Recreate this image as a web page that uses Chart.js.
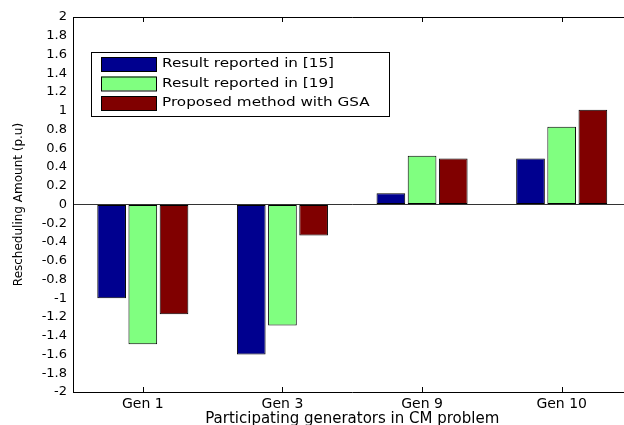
<!DOCTYPE html>
<html>
<head>
<meta charset="utf-8">
<script src="https://cdn.jsdelivr.net/npm/chart.js@4.4.1/dist/chart.umd.min.js"></script>
<style>
  html, body { margin: 0; padding: 0; background: #fff; overflow: hidden; }
  canvas { display: block; }
</style>
</head>
<body>
<canvas id="chart" width="640" height="425"></canvas>
<script>
// data
const categories = ['Gen 1', 'Gen 3', 'Gen 9', 'Gen 10'];
const seriesLabels = ['Result reported in [15]', 'Result reported in [19]', 'Proposed method with GSA'];
const ref15 = [-1.0, -1.6, 0.12, 0.49];
const ref19 = [-1.49, -1.29, 0.52, 0.83];
const gsa = [-1.17, -0.33, 0.49, 1.01];
const yMin = -2, yMax = 2, yStep = 0.2;

const colors = ['#00008f', '#80ff80', '#800000'];
const fontFamily = '"DejaVu Sans", Arial, sans-serif';

// matlab-ish box: top border plus small inward ticks at the categories
const boxPlugin = {
    id: 'box',
    afterDraw(chart) {
        const { ctx, chartArea } = chart;
        const x = chart.scales.x;
        ctx.save();
        ctx.strokeStyle = '#000';
        ctx.lineWidth = 1;
        ctx.beginPath();
        ctx.moveTo(chartArea.left, chartArea.top + 0.5);
        ctx.lineTo(chartArea.right, chartArea.top + 0.5);
        categories.forEach((c, i) => {
            const px = Math.round(x.getPixelForValue(i)) + 0.5;
            ctx.moveTo(px, chartArea.top);
            ctx.lineTo(px, chartArea.top + 5);
            ctx.moveTo(px, chartArea.bottom);
            ctx.lineTo(px, chartArea.bottom - 5);
        });
        ctx.stroke();
        ctx.restore();
    }
};

// legend drawn inside the axes, like the original
const insideLegend = {
    id: 'insideLegend',
    afterDraw(chart) {
        const { ctx, chartArea } = chart;
        const bx = chartArea.left + 18, by = chartArea.top + 35;
        const bw = 298, bh = 64;
        ctx.save();
        ctx.fillStyle = '#fff';
        ctx.fillRect(bx, by, bw, bh);
        ctx.strokeStyle = '#000';
        ctx.lineWidth = 1;
        ctx.strokeRect(bx + 0.5, by + 0.5, bw, bh);
        ctx.font = '13px ' + fontFamily;
        ctx.textBaseline = 'middle';
        chart.data.datasets.forEach((ds, i) => {
            const cy = by + 12 + i * 19.5;
            ctx.fillStyle = ds.backgroundColor;
            ctx.fillRect(bx + 10, cy - 7, 55, 14);
            ctx.strokeStyle = '#000';
            ctx.strokeRect(bx + 10.5, cy - 6.5, 55, 14);
            ctx.save();
            ctx.translate(bx + 71, cy);
            ctx.scale(1.17, 1);
            ctx.fillStyle = '#000';
            ctx.fillText(ds.label, 0, 0);
            ctx.restore();
        });
        ctx.restore();
    }
};

new Chart(document.getElementById('chart'), {
    type: 'bar',
    data: {
        labels: categories,
        datasets: [
            { label: seriesLabels[0], data: ref15, backgroundColor: colors[0] },
            { label: seriesLabels[1], data: ref19, backgroundColor: colors[1] },
            { label: seriesLabels[2], data: gsa, backgroundColor: colors[2] }
        ].map(d => Object.assign(d, {
            borderColor: '#000',
            borderWidth: 1,
            borderSkipped: false,
            categoryPercentage: 0.67,
            barPercentage: 0.92
        }))
    },
    options: {
        responsive: false,
        animation: false,
        layout: { padding: { top: 17, right: 8.5, left: 0, bottom: 0 } },
        plugins: {
            legend: { display: false },
            tooltip: { enabled: false }
        },
        scales: {
            x: {
                grid: { display: false, drawTicks: false },
                border: { display: true, color: '#000' },
                ticks: { color: '#000', padding: 4, font: { family: fontFamily, size: 14 } },
                title: {
                    display: true,
                    text: 'Participating generators in CM problem',
                    color: '#000',
                    font: { family: fontFamily, size: 15 },
                    padding: { top: 0, bottom: -3 }
                },
                afterFit(scale) { scale.height = 33; }
            },
            y: {
                min: yMin,
                max: yMax,
                grid: {
                    drawTicks: false,
                    color: c => (Math.abs(c.tick.value) < 1e-9 ? '#333' : 'rgba(0,0,0,0)')
                },
                border: { display: true, color: '#000' },
                ticks: {
                    stepSize: yStep,
                    color: '#000',
                    padding: 6,
                    font: { family: fontFamily, size: 13 },
                    callback: v => String(parseFloat(Number(v).toFixed(1)) || 0)
                },
                title: {
                    display: true,
                    text: 'Rescheduling Amount (p.u)',
                    color: '#000',
                    font: { family: fontFamily, size: 12 },
                    padding: { top: 12, bottom: 0 }
                },
                afterFit(scale) { scale.width = 73; }
            }
        }
    },
    plugins: [boxPlugin, insideLegend]
});
</script>
</body>
</html>
